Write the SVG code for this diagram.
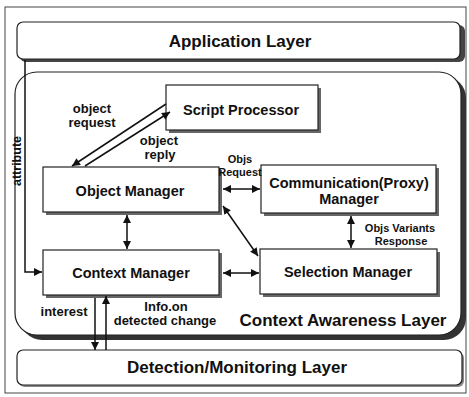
<svg xmlns="http://www.w3.org/2000/svg" width="469" height="397" viewBox="0 0 469 397">
<style>
  .box{fill:#fff;stroke:#222;stroke-width:1.2}
  .shadow{fill:#666}
  .lbl{font-family:"Liberation Sans",Arial,sans-serif;font-weight:bold;fill:#111;text-anchor:middle}
  .node{font-size:14.5px}
  .layer{font-size:17px}
  .edge{font-size:13px}
  .small{font-size:11px}
  .conn{stroke:#111;stroke-width:1.5;fill:none}
</style>
<defs>
  <marker id="ah" viewBox="0 0 10 10" refX="10" refY="5" markerWidth="9" markerHeight="8" markerUnits="userSpaceOnUse" orient="auto-start-reverse">
    <path d="M0,0 L10,5 L0,10 Z" fill="#111"/>
  </marker>
</defs>
<rect id="frame" x="5" y="7" width="461" height="386" fill="#fff" stroke="#444" stroke-width="1"/>

<g id="application-layer">
  <rect x="20" y="25" width="445" height="37" rx="6" fill="#444"/>
  <rect class="box" x="17" y="22" width="443" height="37" rx="6"/>
  <text class="lbl layer" x="240" y="47">Application Layer</text>
</g>

<g id="context-awareness-layer">
  <rect x="20" y="76" width="446" height="264" rx="22" fill="#333"/>
  <rect class="box" x="15" y="72" width="446" height="263" rx="22"/>
  <text class="lbl layer" x="343" y="326">Context Awareness Layer</text>
</g>

<g id="detection-layer">
  <rect x="19" y="352" width="445" height="35" rx="6" fill="#888"/>
  <rect class="box" x="17" y="350" width="445" height="35" rx="6"/>
  <text class="lbl layer" x="237" y="373">Detection/Monitoring Layer</text>
</g>

<g id="script-processor">
  <rect class="shadow" x="169" y="88" width="152" height="45"/>
  <rect class="box" x="166" y="85" width="152" height="45"/>
  <text class="lbl node" x="241" y="115">Script Processor</text>
</g>

<g id="object-manager">
  <rect class="shadow" x="46" y="170" width="176" height="45"/>
  <rect class="box" x="43" y="167" width="176" height="45"/>
  <text class="lbl node" x="130" y="196">Object Manager</text>
</g>

<g id="communication-manager">
  <rect class="shadow" x="264" y="168" width="175" height="48"/>
  <rect class="box" x="261" y="165" width="175" height="48"/>
  <text class="lbl node" x="349" y="188">Communication(Proxy)</text>
  <text class="lbl node" x="349" y="204">Manager</text>
</g>

<g id="context-manager">
  <rect class="shadow" x="46" y="253" width="176" height="45"/>
  <rect class="box" x="43" y="250" width="176" height="45"/>
  <text class="lbl node" x="131" y="278">Context Manager</text>
</g>

<g id="selection-manager">
  <rect class="shadow" x="263" y="252" width="177" height="45"/>
  <rect class="box" x="260" y="249" width="177" height="45"/>
  <text class="lbl node" x="348" y="277">Selection Manager</text>
</g>

<g id="connectors">
  <line class="conn" x1="166" y1="104" x2="72" y2="166" marker-end="url(#ah)"/>
  <line class="conn" x1="85" y1="166" x2="170" y2="112" marker-end="url(#ah)"/>
  <line class="conn" x1="223" y1="189" x2="260" y2="189" marker-start="url(#ah)" marker-end="url(#ah)"/>
  <line class="conn" x1="223" y1="206" x2="258" y2="256" marker-start="url(#ah)" marker-end="url(#ah)"/>
  <line class="conn" x1="127" y1="215" x2="127" y2="249" marker-start="url(#ah)" marker-end="url(#ah)"/>
  <line class="conn" x1="223" y1="273" x2="259" y2="273" marker-start="url(#ah)" marker-end="url(#ah)"/>
  <line class="conn" x1="351" y1="216" x2="351" y2="248" marker-start="url(#ah)" marker-end="url(#ah)"/>
  <polyline class="conn" points="25,60 25,272 42,272" marker-end="url(#ah)"/>
  <line class="conn" x1="95" y1="298" x2="95" y2="350" marker-end="url(#ah)"/>
  <line class="conn" x1="106" y1="350" x2="106" y2="296" marker-end="url(#ah)"/>
  <text class="lbl edge" x="92" y="113">object</text>
  <text class="lbl edge" x="92" y="127">request</text>
  <text class="lbl edge" x="159" y="145">object</text>
  <text class="lbl edge" x="160" y="159">reply</text>
  <text class="lbl small" x="240" y="163">Objs</text>
  <text class="lbl small" x="240" y="176">Request</text>
  <text class="lbl small" x="400" y="232">Objs Variants</text>
  <text class="lbl small" x="401" y="245">Response</text>
  <text class="lbl edge" x="64" y="316">interest</text>
  <text class="lbl edge" x="166" y="311">Info.on</text>
  <text class="lbl edge" x="165" y="325">detected change</text>
  <text class="lbl" font-size="12.5" transform="translate(21,161) rotate(-90)">attribute</text>
</g>
</svg>
